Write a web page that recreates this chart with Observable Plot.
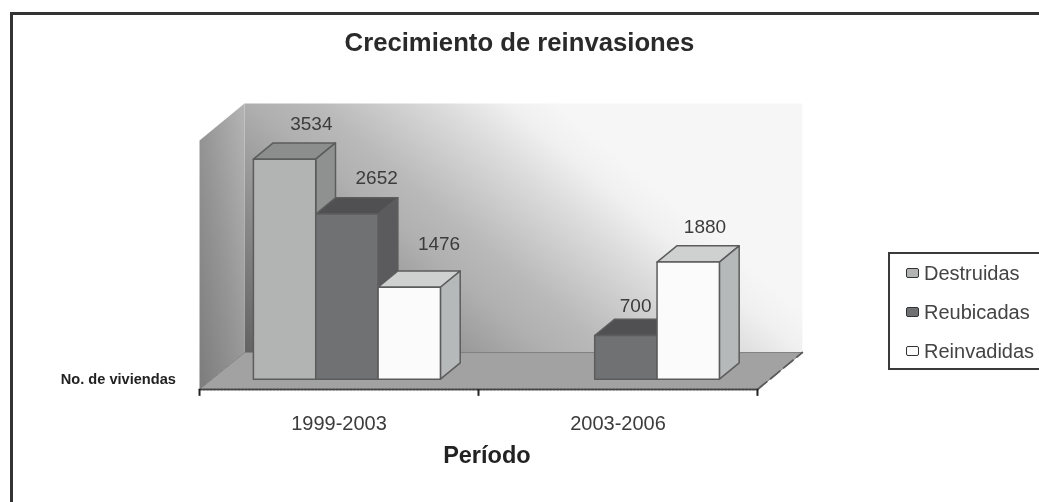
<!DOCTYPE html>
<html>
<head>
<meta charset="utf-8">
<script src="https://cdn.jsdelivr.net/npm/d3@7"></script>
<script src="https://cdn.jsdelivr.net/npm/@observablehq/plot@0.6"></script>
<style>
html,body{margin:0;padding:0;background:#fff;overflow:hidden}
#wrap{position:relative;width:1039px;height:502px;filter:blur(.6px);font-family:"Liberation Sans",Arial,sans-serif}
#wrap svg{display:block}
#legend{position:absolute;left:888px;top:252px;width:160px;height:114px;border:2px solid #3a3a3a;box-sizing:content-box;background:#fff;color:#444;font-size:20px}
#legend div{position:absolute;left:16px;white-space:nowrap;line-height:22px}
#legend i{display:inline-block;width:11px;height:8px;border:1.8px solid #333;border-radius:2px;margin-right:5px;vertical-align:2px}
</style>
</head>
<body>
<div id="wrap"></div>
<script>
const periods = ["1999-2003", "2003-2006"];
const seriesNames = ["Destruidas", "Reubicadas", "Reinvadidas"];
const destruidas = [3534, null];
const reubicadas = [2652, 700];
const reinvadidas = [1476, 1880];
const seriesValues = [destruidas, reubicadas, reinvadidas];
const frontFills = ["#b2b4b4", "#6f7173", "#fbfbfb"];
const sideFills = ["#8f9191", "#5b5b5d", "#b6b9b9"];
const topFills = ["#8c8e8e", "#505052", "#cfd1d1"];
const wallTop = 4000;

// Oblique projection: depth 0..1 moves a point right and up, in data units.
const depthX = 0.161, depthY = 594;
const P = (x, v, d = 0) => ({x: x + d * depthX, y: v + d * depthY});
const face = (pts, options) => Plot.line([...pts, pts[0]], {x: "x", y: "y", ...options});

const barStart = 0.148, barWidth = 0.2235, d0 = 0.28, d1 = 0.72;
const stroke = {stroke: "#5c5c5c", strokeWidth: 1.5, strokeLinejoin: "round"};

const defs = () => {
  const s = d3.create("svg:defs");
  const grad = (id, x1, y1, x2, y2, stops) => {
    const g = s.append("linearGradient").attr("id", id)
      .attr("x1", x1).attr("y1", y1).attr("x2", x2).attr("y2", y2);
    stops.forEach(([o, c]) => g.append("stop").attr("offset", o).attr("stop-color", c));
  };
  grad("backWall", 0, 1, 0.85, 0.55, [[0, "#626262"], [0.28, "#8c8c8c"], [0.5, "#b0b0b0"], [0.6, "#b9b9b9"], [0.81, "#dcdcdc"], [0.92, "#f0f0f0"], [1, "#f6f6f6"]]);
  grad("sideWall", 0, 1, 1, 0, [[0, "#7c7c7c"], [0.5, "#969696"], [1, "#b4b4b4"]]);
  return s.node();
};

const marks = [
  defs,
  Plot.frame({anchor: "top", stroke: "#333", strokeWidth: 3}),
  Plot.frame({anchor: "left", stroke: "#333", strokeWidth: 3}),
  // walls and floor
  face([P(0, 0, 1), P(2, 0, 1), P(2, wallTop, 1), P(0, wallTop, 1)], {fill: "url(#backWall)", stroke: "none"}),
  face([P(0, 0, 0), P(0, 0, 1), P(0, wallTop, 1), P(0, wallTop, 0)], {fill: "url(#sideWall)", stroke: "none"}),
  face([P(0, 0, 0), P(2, 0, 0), P(2, 0, 1), P(0, 0, 1)], {fill: "#a2a2a2", stroke: "#808080", strokeWidth: 1}),
  // axes
  Plot.line([P(0, 0), P(2, 0)], {x: "x", y: "y", stroke: "#444", strokeWidth: 2, strokeDasharray: "2 1.5"}),
  Plot.line([P(2, 0), P(2, 0, 1)], {x: "x", y: "y", stroke: "#5a5a5a", strokeWidth: 1.8, strokeDasharray: "12 5"}),
  Plot.ruleX([0, 1, 2], {y1: 0, y2: -110, stroke: "#222", strokeWidth: 2})
];

// bars, painted left to right
periods.forEach((p, g) => {
  seriesValues.forEach((vals, s) => {
    const v = vals[g];
    if (v == null) return;
    const a = g + barStart + s * barWidth, b = a + barWidth;
    marks.push(
      face([P(a, v, d0), P(b, v, d0), P(b, v, d1), P(a, v, d1)], {fill: topFills[s], ...stroke}),
      face([P(b, 0, d0), P(b, 0, d1), P(b, v, d1), P(b, v, d0)], {fill: sideFills[s], ...stroke}),
      face([P(a, 0, d0), P(b, 0, d0), P(b, v, d0), P(a, v, d0)], {fill: frontFills[s], ...stroke})
    );
  });
});

// value labels, hand-nudged as in the reference
const nudge = {"0-0": [7, -19], "0-1": [10, -20], "0-2": [10, -27], "1-1": [-10, -13], "1-2": [-3, -19]};
periods.forEach((p, g) => {
  seriesValues.forEach((vals, s) => {
    const v = vals[g];
    if (v == null) return;
    const c = P(g + barStart + (s + 0.5) * barWidth, v, d1);
    const [dx, dy] = nudge[g + "-" + s];
    marks.push(Plot.text([c], {x: "x", y: "y", text: () => String(v), dx, dy,
      fontSize: 19, fill: "#3c3c3c", textAnchor: "middle"}));
  });
});

marks.push(
  Plot.text(periods, {x: (d, i) => i + 0.5, y: -546, text: d => d, fontSize: 20, fill: "#3c3c3c"}),
  Plot.text(["Período"], {x: 1.03, y: -1060, fontSize: 23.5, fontWeight: "bold", fill: "#222"}),
  Plot.text(["Crecimiento de reinvasiones"], {x: 1.147, y: 5575, fontSize: 25.7, fontWeight: "bold", fill: "#2a2a2a"}),
  Plot.text(["No. de viviendas"], {x: -0.291, y: 160, fontSize: 14.6, fontWeight: "bold", fill: "#222"})
);

const chart = Plot.plot({
  width: 1039, height: 502,
  marginTop: 13, marginLeft: 11, marginRight: 0, marginBottom: 0,
  style: {fontFamily: '"Liberation Sans", Arial, sans-serif', background: "#fff"},
  x: {type: "linear", domain: [-0.674, 3.011], axis: null},
  y: {type: "linear", domain: [-1815, 6040], axis: null},
  marks
});
const wrap = document.getElementById("wrap");
wrap.appendChild(chart);

const legend = document.createElement("div");
legend.id = "legend";
seriesNames.forEach((n, i) => {
  const row = document.createElement("div");
  row.style.top = (8 + i * 39) + "px";
  const sw = document.createElement("i");
  sw.style.background = frontFills[i];
  row.appendChild(sw);
  row.appendChild(document.createTextNode(n));
  legend.appendChild(row);
});
wrap.appendChild(legend);
</script>
</body>
</html>
